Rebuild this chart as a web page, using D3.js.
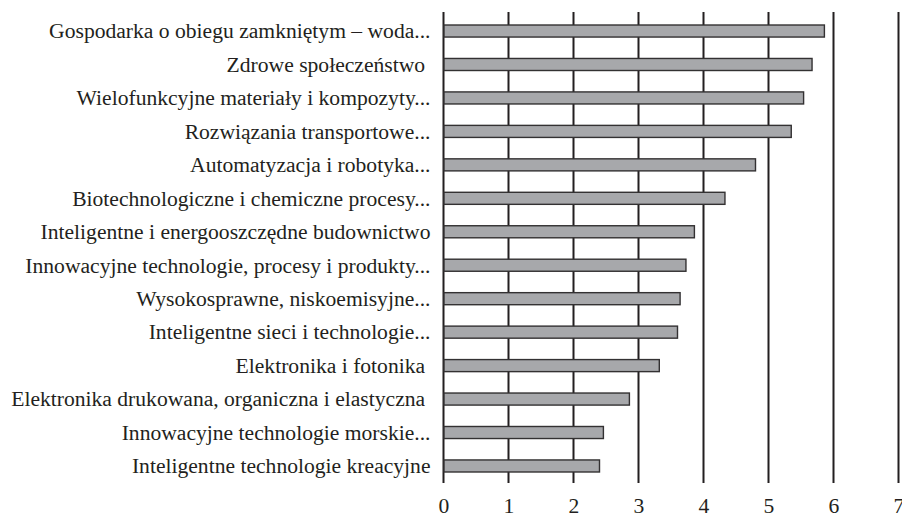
<!DOCTYPE html>
<html>
<head>
<meta charset="utf-8">
<script src="https://cdn.jsdelivr.net/npm/d3@7"></script>
</head>
<body style="margin:0">
<svg id="chart" width="902" height="518"></svg>
<script>
const categories = [
  "Gospodarka o obiegu zamkniętym – woda...",
  "Zdrowe społeczeństwo\u00a0",
  "Wielofunkcyjne materiały i kompozyty...",
  "Rozwiązania transportowe...",
  "Automatyzacja i robotyka...",
  "Biotechnologiczne i chemiczne procesy...",
  "Inteligentne i energooszczędne budownictwo",
  "Innowacyjne technologie, procesy i produkty...",
  "Wysokosprawne, niskoemisyjne...",
  "Inteligentne sieci i technologie...",
  "Elektronika i fotonika\u00a0",
  "Elektronika drukowana, organiczna i elastyczna\u00a0",
  "Innowacyjne technologie morskie...",
  "Inteligentne technologie kreacyjne"
];
const values = [5.86, 5.67, 5.54, 5.35, 4.80, 4.33, 3.86, 3.73, 3.64, 3.60, 3.32, 2.86, 2.46, 2.40];
const tickValues = [0, 1, 2, 3, 4, 5, 6, 7];

const FONT = "Liberation Serif";
const INK = "#231f20";

const svg = d3.select("#chart");
const x = d3.scaleLinear().domain([0, 7]).range([443.5, 898.5]);
const y = d3.scaleBand().domain(categories).range([14.3, 482.7]).paddingInner(0.64).paddingOuter(0.32);

// gridlines
svg.append("g").selectAll("line").data(tickValues).join("line")
  .attr("x1", d => x(d)).attr("x2", d => x(d))
  .attr("y1", 12).attr("y2", 483)
  .attr("stroke", INK).attr("stroke-width", 2);

// bars
svg.append("g").selectAll("rect").data(values).join("rect")
  .attr("x", x(0) + 0.5)
  .attr("y", (d, i) => y(categories[i]))
  .attr("width", d => x(d) - x(0) - 0.5)
  .attr("height", y.bandwidth())
  .attr("fill", "#a7a8ab")
  .attr("stroke", "#333132").attr("stroke-width", 1.4);

// category labels
svg.append("g").selectAll("text").data(categories).join("text")
  .attr("x", 430.5)
  .attr("y", d => y(d) + y.bandwidth() / 2 + 7.3)
  .attr("text-anchor", "end")
  .attr("font-family", FONT)
  .attr("font-size", 21.6)
  .attr("fill", INK)
  .text(d => d);

// x tick labels
const xAxis = d3.axisBottom(x).tickValues(tickValues).tickSize(0).tickPadding(0).tickFormat(d3.format("d"));
const gx = svg.append("g").call(xAxis).attr("font-family", FONT).attr("font-size", 21.6);
gx.select(".domain").remove();
gx.selectAll("text")
  .attr("y", 513.3).attr("dy", null)
  .attr("font-family", FONT).attr("font-size", 21.6)
  .attr("fill", INK);
</script>
</body>
</html>
